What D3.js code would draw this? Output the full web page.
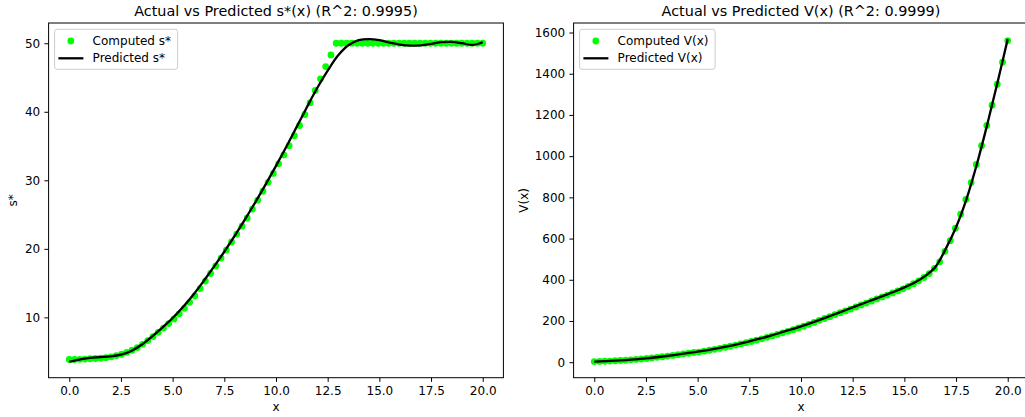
<!DOCTYPE html>
<html>
<head>
<meta charset="utf-8">
<script src="https://cdn.jsdelivr.net/npm/d3@7"></script>
<style>
  body { margin: 0; background: #fff; }
  svg { display: block; }
  text { font-family: "DejaVu Sans", sans-serif; fill: #000; }
</style>
</head>
<body>
<svg id="chart" width="1025" height="417"></svg>
<script>
// Sample grid of the computed solution: 80 evenly spaced points on [0, 20]
const gridX = d3.range(80).map(i => 20 * i / 79);
// Grid of the fitted model's curve
const predX = d3.range(41).map(i => i * 0.5);

const xTicks = [0, 2.5, 5, 7.5, 10, 12.5, 15, 17.5, 20];
const sTicks = [10, 20, 30, 40, 50];
const vTicks = [0, 200, 400, 600, 800, 1000, 1200, 1400, 1600];

// Optimal control s*(x) from the solver
const sComputed = [
  3.85, 3.85, 3.88, 3.92, 3.96, 4.0, 4.05, 4.12, 4.25, 4.42,
  4.62, 4.88, 5.2, 5.6, 6.07, 6.62, 7.2, 7.82, 8.44, 9.1,
  9.78, 10.52, 11.33, 12.2, 13.15, 14.2, 15.3, 16.4, 17.5, 18.65,
  19.8, 21.0, 22.15, 23.3, 24.5, 25.8, 27.1, 28.4, 29.7, 31.0,
  32.4, 33.7, 35.05, 36.5, 38.0, 39.6, 41.3, 43.1, 44.8, 46.6,
  48.3, 50, 50, 50, 50, 50, 50, 50, 50, 50,
  50, 50, 50, 50, 50, 50, 50, 50, 50, 50,
  50, 50, 50, 50, 50, 50, 50, 50, 50, 50
];
// Model prediction of s*(x)
const sPredicted = [
  3.55, 3.85, 4.1, 4.2, 4.3, 4.55, 5.1, 6.0, 7.2, 8.5,
  9.9, 11.5, 13.3, 15.3, 17.4, 19.6, 21.9, 24.3, 26.8, 29.4,
  32.1, 34.9, 37.8, 40.7, 43.5, 46.0, 48.2, 49.7, 50.45, 50.6,
  50.45, 50.1, 49.8, 49.65, 49.7, 49.9, 50.15, 50.2, 50.0, 49.75,
  50.15
];

// Value function V(x) from the solver
const vComputed = [
  3, 3.5, 4.5, 5.5, 7, 8.5, 10, 11.5, 13.5, 15.5,
  18, 20.5, 23.5, 26.5, 29.5, 33, 36.5, 40, 43.5, 47,
  49, 53.5, 58, 62.5, 67.5, 72.5, 77.5, 83, 88.5, 94.5,
  100.5, 107, 113.5, 120.5, 127.5, 135, 142.5, 150, 158, 166,
  175, 184, 193, 203, 212, 221, 231, 240, 249, 258,
  268, 278, 287, 297, 307, 317, 326, 336, 346, 356,
  368, 381, 395, 411, 430, 455, 487, 538, 590, 650,
  718, 790, 872, 960, 1051, 1149, 1247, 1349, 1456, 1561
];
// Model prediction of V(x)
const vPredicted = [
  3, 5, 7.5, 10.5, 14, 18.5, 24, 30, 37, 44,
  51, 59, 68, 78, 89, 101, 114, 128, 143, 158,
  174, 191, 209, 228, 247, 266, 285, 304, 323, 342,
  363, 387, 418, 462, 550, 655, 790, 958, 1150, 1355,
  1568
];

const svg = d3.select("#chart");
const FONT = 12;

function panel(cfg) {
  const { left, right, top, bottom } = cfg.box;
  const g = svg.append("g");

  const x = d3.scaleLinear().domain([-1, 21]).range([left, right]);
  const all = cfg.computed.concat(cfg.predicted);
  const lo = d3.min(all), hi = d3.max(all), pad = (hi - lo) * 0.05;
  const y = d3.scaleLinear().domain([lo - pad, hi + pad]).range([bottom, top]);

  // computed points
  g.append("g").selectAll("circle")
    .data(cfg.computed)
    .join("circle")
    .attr("cx", (d, i) => x(gridX[i]))
    .attr("cy", d => y(d))
    .attr("r", 3.4)
    .attr("fill", "#00ff00");

  // predicted curve
  const line = d3.line()
    .x((d, i) => x(predX[i]))
    .y(d => y(d))
    .curve(d3.curveCatmullRom.alpha(0.5));
  g.append("path")
    .datum(cfg.predicted)
    .attr("d", line)
    .attr("fill", "none")
    .attr("stroke", "#000")
    .attr("stroke-width", 2.3)
    .attr("stroke-linejoin", "round");

  // spines
  g.append("rect")
    .attr("x", left).attr("y", top)
    .attr("width", right - left).attr("height", bottom - top)
    .attr("fill", "none").attr("stroke", "#000").attr("stroke-width", 1);

  // axes
  const ax = g.append("g")
    .attr("transform", `translate(0,${bottom})`)
    .call(d3.axisBottom(x).tickValues(xTicks).tickFormat(d3.format(".1f"))
      .tickSize(4.2).tickPadding(4.2));
  const ay = g.append("g")
    .attr("transform", `translate(${left},0)`)
    .call(d3.axisLeft(y).tickValues(cfg.yTicks).tickFormat(d3.format("d"))
      .tickSize(4.2).tickPadding(4.2));
  [ax, ay].forEach(a => {
    a.select(".domain").remove();
    a.selectAll("line").attr("stroke", "#000").attr("stroke-width", 1);
    a.selectAll("text").attr("font-size", FONT)
      .attr("font-family", "DejaVu Sans, sans-serif").attr("fill", "#000");
  });

  // title and axis labels
  g.append("text")
    .attr("x", (left + right) / 2).attr("y", 16)
    .attr("text-anchor", "middle").attr("font-size", 14.4)
    .text(cfg.title);
  g.append("text")
    .attr("x", (left + right) / 2).attr("y", 411)
    .attr("text-anchor", "middle").attr("font-size", FONT)
    .text("x");
  g.append("text")
    .attr("transform", `translate(${cfg.yLabelX},${(top + bottom) / 2}) rotate(-90)`)
    .attr("text-anchor", "middle").attr("font-size", FONT)
    .text(cfg.yLabel);

  // legend
  const lg = g.append("g").attr("transform", `translate(${left + 6},29.3)`);
  lg.append("rect")
    .attr("width", cfg.legendW).attr("height", 40)
    .attr("rx", 2.4).attr("ry", 2.4)
    .attr("fill", "#fff").attr("fill-opacity", 0.8)
    .attr("stroke", "#cccccc").attr("stroke-width", 1);
  lg.append("circle")
    .attr("cx", 16.2).attr("cy", 11.7).attr("r", 3.4).attr("fill", "#00ff00");
  lg.append("line")
    .attr("x1", 3.8).attr("x2", 28.8).attr("y1", 29).attr("y2", 29)
    .attr("stroke", "#000").attr("stroke-width", 2.3);
  lg.append("text").attr("x", 38).attr("y", 15.7).attr("font-size", FONT)
    .text(cfg.legend[0]);
  lg.append("text").attr("x", 38).attr("y", 33).attr("font-size", FONT)
    .text(cfg.legend[1]);
}

panel({
  box: { left: 48.6, right: 503.4, top: 23, bottom: 377.7 },
  computed: sComputed, predicted: sPredicted, yTicks: sTicks,
  title: "Actual vs Predicted s*(x) (R^2: 0.9995)",
  yLabel: "s*", yLabelX: 17.3,
  legend: ["Computed s*", "Predicted s*"], legendW: 123
});
panel({
  box: { left: 573.6, right: 1028.4, top: 23, bottom: 377.7 },
  computed: vComputed, predicted: vPredicted, yTicks: vTicks,
  title: "Actual vs Predicted V(x) (R^2: 0.9999)",
  yLabel: "V(x)", yLabelX: 527.5,
  legend: ["Computed V(x)", "Predicted V(x)"], legendW: 135.5
});
</script>
</body>
</html>
